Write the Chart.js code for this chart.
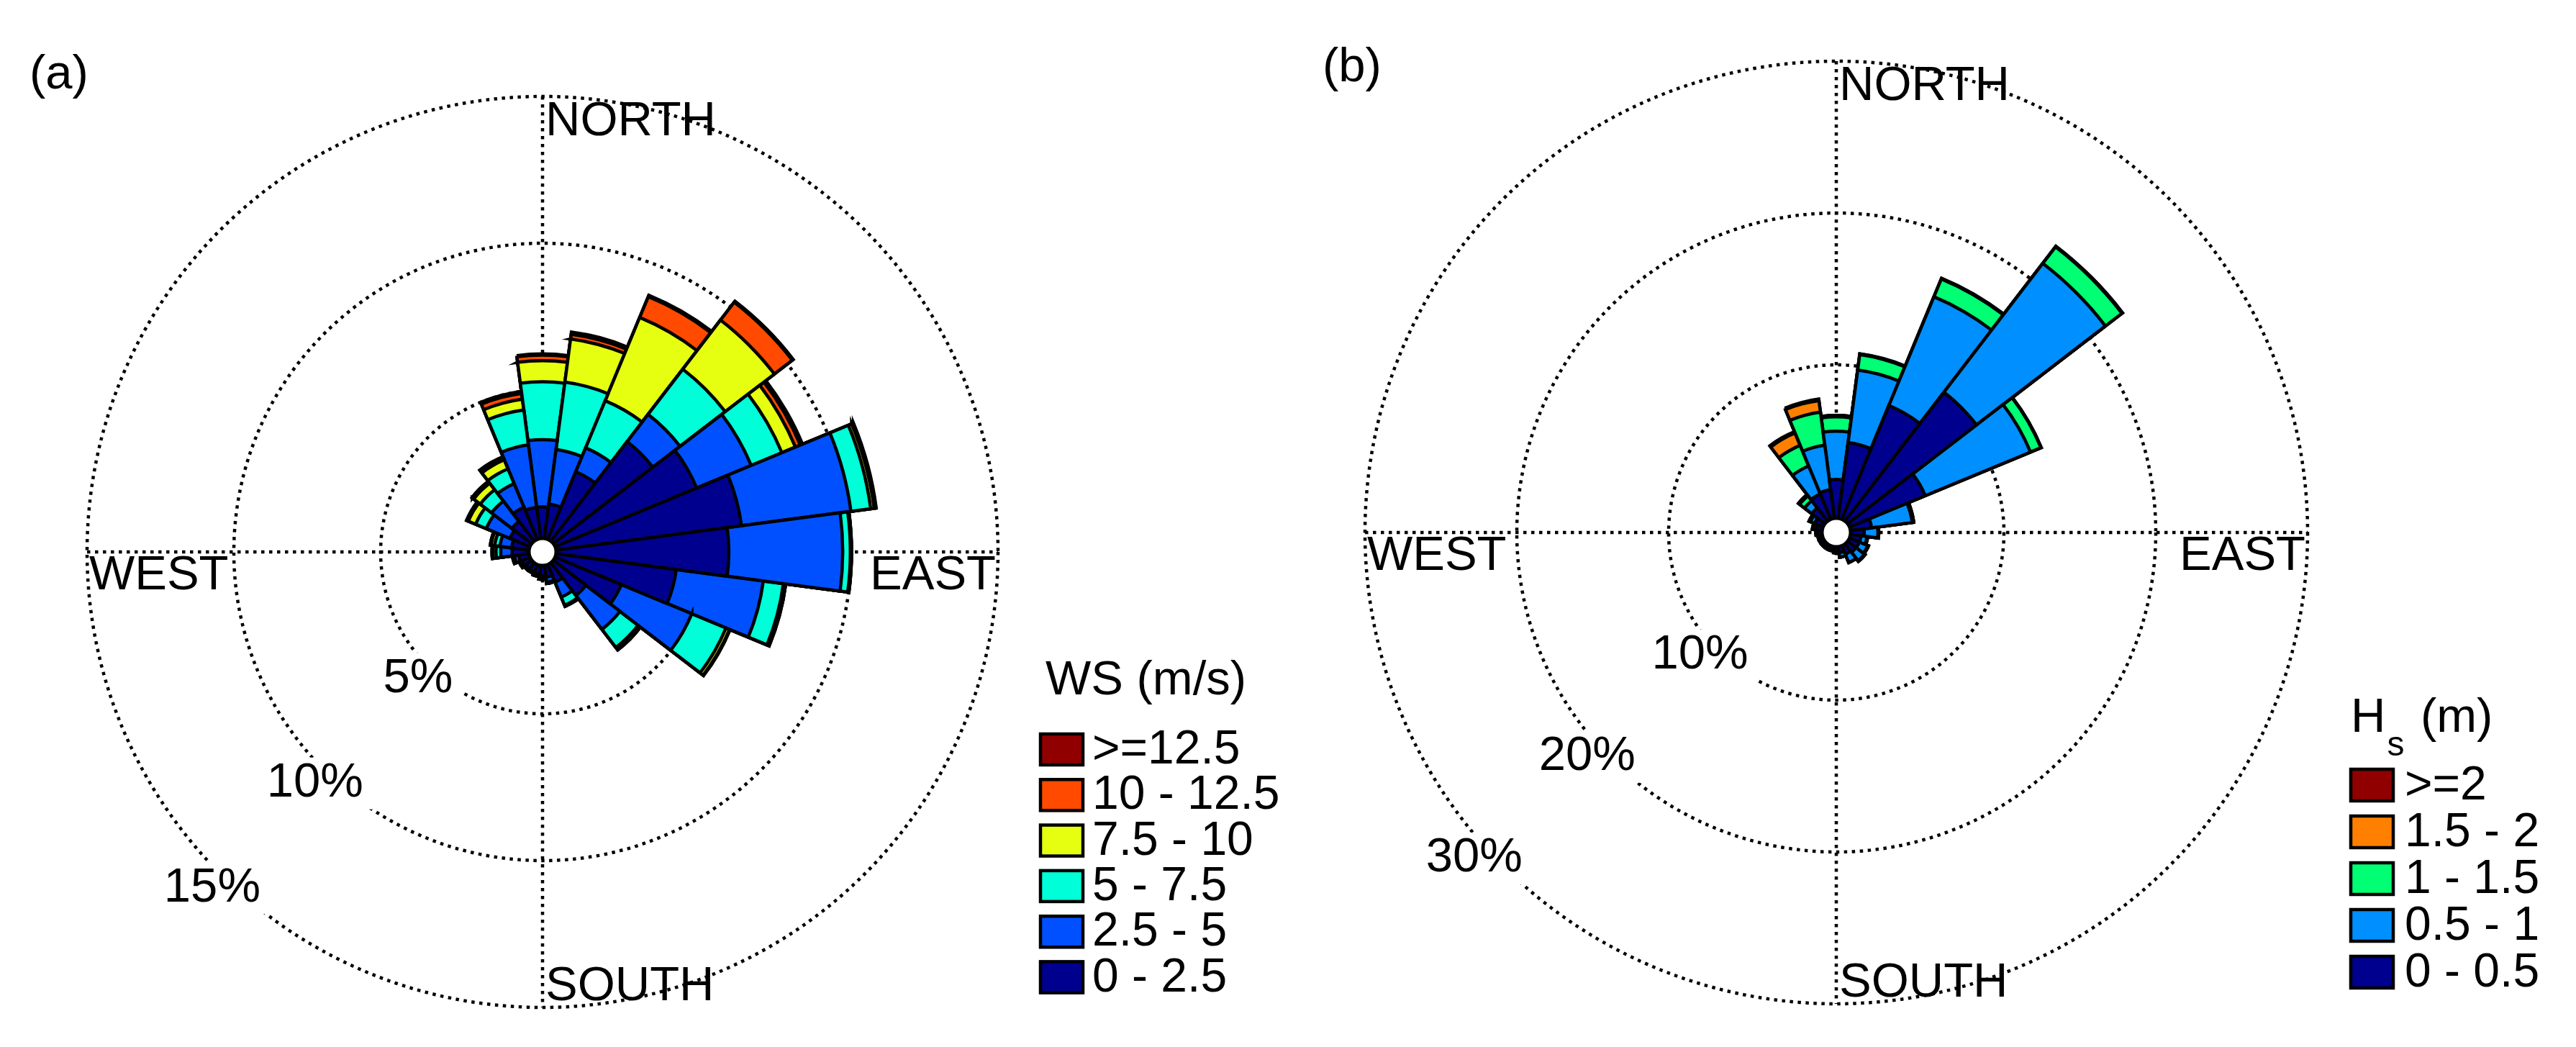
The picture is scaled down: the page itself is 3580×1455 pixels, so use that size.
<!DOCTYPE html>
<html>
<head>
<meta charset="utf-8">
<title>Wind and wave roses</title>
<script src="https://cdn.jsdelivr.net/npm/chart.js@4.4.1/dist/chart.umd.min.js"></script>
<style>
  html, body { margin: 0; padding: 0; background: #fff; }
  body { width: 3580px; height: 1455px; position: relative; overflow: hidden; }
  canvas { position: absolute; top: 0; }
  #roseA { left: 0; }
  #roseB { left: 1790px; }
</style>
</head>
<body>
<canvas id="roseA" width="1790" height="1455"></canvas>
<canvas id="roseB" width="1790" height="1455"></canvas>
<script>
const FONT = "'Liberation Sans', Arial, Helvetica, sans-serif";

// 24 sectors of 15 degrees, clockwise from north
const directions = ['0°', '15°', '30°', '45°', '60°', '75°', '90°', '105°', '120°', '135°', '150°', '165°',
                    '180°', '195°', '210°', '225°', '240°', '255°', '270°', '285°', '300°', '315°', '330°', '345°'];

// (a) wind speed, % of records per sector and class
const wsClasses = ['0 - 2.5', '2.5 - 5', '5 - 7.5', '7.5 - 10', '10 - 12.5', '>=12.5'];
const wsColors = ['#00008f', '#0050ff', '#00ffd8', '#e6ff10', '#ff4a00', '#900000'];
const ws0to25 = [1.02, 1.13, 2.44, 4.22, 5.17, 6.32, 5.83, 4.08, 2.39, 1.35, 0.60, 0.35, 0.30, 0.25, 0.22, 0.22, 0.25, 0.30, 0.52, 0.55, 0.69, 0.80, 1.13, 1.02];
const ws25to5 = [2.29, 1.87, 0.88, 1.17, 2.01, 3.76, 3.88, 2.99, 2.60, 1.46, 0.55, 0.18, 0.10, 0.08, 0.06, 0.06, 0.08, 0.15, 0.39, 0.40, 0.87, 0.87, 0.87, 2.14];
const ws5to75 = [1.97, 2.32, 1.74, 1.94, 1.13, 0.68, 0.26, 0.69, 1.26, 0.78, 0.30, 0.04, 0.02, 0, 0, 0, 0.02, 0.05, 0.16, 0.18, 0.39, 0.49, 0.55, 1.20];
const ws75to10 = [0.72, 1.48, 3.07, 2.11, 0.50, 0.12, 0.04, 0.08, 0.13, 0.10, 0.04, 0, 0, 0, 0, 0, 0, 0.02, 0.11, 0.12, 0.27, 0.28, 0.33, 0.37];
const ws10to125 = [0.19, 0.16, 0.77, 0.77, 0.18, 0.05, 0, 0, 0.02, 0, 0, 0, 0, 0, 0, 0, 0, 0, 0.03, 0.03, 0.05, 0.06, 0.10, 0.20];
const ws125up = [0.04, 0.08, 0.05, 0.04, 0.08, 0.02, 0, 0, 0, 0, 0, 0, 0, 0, 0, 0, 0, 0, 0, 0, 0.02, 0.02, 0.02, 0.07];
const wsTicks = [5, 10, 15];
const wsTickLabels = ['5%', '10%', '15%'];

// (b) significant wave height
const hsClasses = ['0 - 0.5', '0.5 - 1', '1 - 1.5', '1.5 - 2', '>=2'];
const hsColors = ['#00008f', '#008fff', '#00ff73', '#ff8000', '#900000'];
const hs0to05 = [2.45, 4.93, 8.01, 10.6, 5.3, 1.3, 0.8, 0.6, 0.6, 0.6, 0.5, 0.3, 0.2, 0.15, 0.15, 0.15, 0.15, 0.15, 0.2, 0.3, 0.5, 1.0, 1.7, 1.8];
const hs05to1 = [3.18, 4.82, 7.75, 10.7, 7.5, 2.7, 0.9, 0.4, 0.6, 0.7, 0.6, 0.3, 0.1, 0.05, 0.05, 0.05, 0.05, 0.05, 0.1, 0.2, 0.3, 0.6, 2.0, 2.95];
const hs1to15 = [0.94, 1.02, 1.27, 1.37, 0.75, 0.1, 0.05, 0.05, 0.05, 0.05, 0, 0, 0, 0, 0, 0, 0, 0, 0, 0.05, 0.1, 0.4, 1.47, 2.2];
const hs15to2 = [0.10, 0.05, 0.05, 0.05, 0.02, 0, 0, 0, 0, 0, 0, 0, 0, 0, 0, 0, 0, 0, 0, 0, 0, 0.1, 0.88, 0.77];
const hs2up = [0, 0, 0, 0, 0, 0, 0, 0, 0, 0, 0, 0, 0, 0, 0, 0, 0, 0, 0, 0, 0, 0, 0.1, 0.1];
const hsTicks = [10, 20, 30];
const hsTickLabels = ['10%', '20%', '30%'];

// polar areas overlap, so each class is drawn as a running total
// (dataset 0 is drawn last, on top)
function stackedSets(series, labels, colors) {
  let running = directions.map(() => 0);
  return series.map((vals, i) => {
    running = running.map((r, j) => r + vals[j]);
    return {
      label: labels[i],
      data: running.slice(),
      backgroundColor: colors[i],
      borderColor: '#000',
      borderWidth: 4.5,
      borderJoinStyle: 'miter'
    };
  });
}

const DOTS = [4.5, 6.5];

const rosePlugin = {
  id: 'rose',
  beforeDatasetsDraw(chart) {
    // dotted N-S / E-W cross
    const s = chart.scales.r, ctx = chart.ctx;
    const R = s.drawingArea, cx = s.xCenter, cy = s.yCenter;
    ctx.save();
    ctx.strokeStyle = '#000';
    ctx.lineWidth = 4.5;
    ctx.setLineDash(DOTS);
    ctx.beginPath();
    ctx.moveTo(cx - R, cy); ctx.lineTo(cx + R, cy);
    ctx.moveTo(cx, cy - R); ctx.lineTo(cx, cy + R);
    ctx.stroke();
    ctx.restore();
  },
  afterDatasetsDraw(chart) {
    // empty centre
    const s = chart.scales.r, ctx = chart.ctx;
    const r0 = s.getDistanceFromCenterForValue(0);
    ctx.save();
    ctx.beginPath();
    ctx.arc(s.xCenter, s.yCenter, r0 - 2, 0, 2 * Math.PI);
    ctx.fillStyle = '#fff';
    ctx.fill();
    ctx.lineWidth = 5;
    ctx.strokeStyle = '#000';
    ctx.stroke();
    ctx.restore();
  },
  afterDraw(chart, args, o) {
    const s = chart.scales.r, ctx = chart.ctx;
    const R = s.drawingArea, cx = s.xCenter, cy = s.yCenter;
    ctx.save();
    ctx.fillStyle = '#000';
    ctx.font = '67px ' + FONT;
    ctx.textBaseline = 'alphabetic';

    ctx.textAlign = 'left';
    ctx.fillText(o.panel, o.panelX, o.panelY);
    ctx.fillText('NORTH', cx + 4, cy - R + 54);
    ctx.fillText('WEST', cx - R + 3, cy + 52);
    ctx.fillText('SOUTH', cx + 4, cy + R - 10);
    ctx.textAlign = 'right';
    ctx.fillText('EAST', cx + R - 3, cy + 52);

    // ring labels on a white patch
    ctx.textAlign = 'center';
    ctx.textBaseline = 'middle';
    const a = o.labelAngle * Math.PI / 180;
    o.ticks.forEach((v, i) => {
      const d = s.getDistanceFromCenterForValue(v) + o.labelGap;
      const x = cx - d * Math.cos(a), y = cy + d * Math.sin(a);
      const w = ctx.measureText(o.tickLabels[i]).width;
      ctx.fillStyle = '#fff';
      ctx.fillRect(x - w / 2 - 14, y - 36, w + 28, 72);
      ctx.fillStyle = '#000';
      ctx.fillText(o.tickLabels[i], x, y);
    });

    // legend
    const L = o.legend;
    ctx.textAlign = 'left';
    ctx.textBaseline = 'alphabetic';
    let tx = L.titleX;
    L.title.forEach(p => {
      ctx.font = (p.sub ? '48px ' : '67px ') + FONT;
      ctx.fillText(p.t, tx, L.titleY + (p.sub ? 33 : 0));
      tx += ctx.measureText(p.t).width + (p.sub ? 4 : 2);
    });
    ctx.font = '66px ' + FONT;
    const sets = chart.data.datasets;
    for (let k = 0; k < sets.length; k++) {
      const ds = sets[sets.length - 1 - k];
      const top = L.top + k * L.pitch;
      ctx.fillStyle = ds.backgroundColor;
      ctx.fillRect(L.x, top, L.w, L.h);
      ctx.lineWidth = 4.5;
      ctx.strokeStyle = '#000';
      ctx.strokeRect(L.x + 2, top + 2, L.w - 4, L.h - 4);
      ctx.fillStyle = '#000';
      ctx.fillText(ds.label, L.textX, top + L.h - 4);
    }
    ctx.restore();
  }
};

function makeRose(id, series, classes, colors, ticks, rMin, rMax, pad, deco) {
  return new Chart(document.getElementById(id), {
    type: 'polarArea',
    data: { labels: directions, datasets: stackedSets(series, classes, colors) },
    options: {
      responsive: false,
      animation: false,
      events: [],
      layout: { padding: pad },
      scales: {
        r: {
          min: rMin,
          max: rMax,
          startAngle: -7.5,
          afterBuildTicks: (scale) => { scale.ticks = ticks.map(v => ({ value: v })); },
          ticks: { display: false },
          grid: { circular: true, color: '#000', lineWidth: 4.5, borderDash: DOTS },
          border: { dash: DOTS },
          angleLines: { display: false },
          pointLabels: { display: false }
        }
      },
      plugins: {
        legend: { display: false },
        tooltip: { enabled: false },
        rose: deco
      }
    },
    plugins: [rosePlugin]
  });
}

makeRose('roseA', [ws0to25, ws25to5, ws5to75, ws75to10, ws10to125, ws125up], wsClasses, wsColors,
  wsTicks, -0.515, 15, { left: 121, top: 134, right: 403, bottom: 55 },
  {
    panel: '(a)', panelX: 41, panelY: 123,
    ticks: wsTicks, tickLabels: wsTickLabels, labelAngle: 45.5, labelGap: 22,
    legend: {
      title: [{ t: 'WS (m/s)' }], titleX: 1453, titleY: 965,
      x: 1444, top: 1018, pitch: 63.3, w: 63, h: 47, textX: 1518
    }
  });

makeRose('roseB', [hs0to05, hs05to1, hs1to15, hs15to2, hs2up], hsClasses, hsColors,
  hsTicks, -1.043, 30, { left: 107, top: 85, right: 373, bottom: 60 },
  {
    panel: '(b)', panelX: 48, panelY: 113,
    ticks: hsTicks, tickLabels: hsTickLabels, labelAngle: 42, labelGap: 22,
    legend: {
      title: [{ t: 'H' }, { t: 's', sub: true }, { t: ' (m)' }], titleX: 1477, titleY: 1017,
      x: 1475, top: 1067, pitch: 65, w: 63, h: 48, textX: 1552
    }
  });
</script>
</body>
</html>
